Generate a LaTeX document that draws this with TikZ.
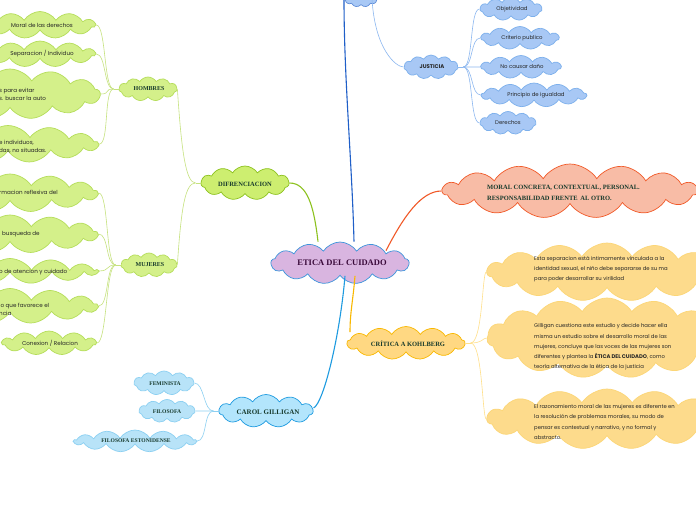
\documentclass[tikz,border=0pt]{standalone}
\usepackage{fontspec}
\setmainfont{Poppins}
\newfontfamily\titlefont{Liberation Serif}
\usetikzlibrary{shapes.symbols}
\definecolor{limefill}{HTML}{D4F08A}
\definecolor{limedraw}{HTML}{B5DD5A}
\definecolor{difffill}{HTML}{CDEE70}
\definecolor{diffdraw}{HTML}{8DC21F}
\definecolor{limeline}{HTML}{C6E27E}
\definecolor{lavfill}{HTML}{D9B5E0}
\definecolor{lavdraw}{HTML}{3D95DB}
\definecolor{salfill}{HTML}{F8BCA6}
\definecolor{saldraw}{HTML}{F15A29}
\definecolor{yelfill}{HTML}{FFD882}
\definecolor{yeldraw}{HTML}{F9B800}
\definecolor{yelleaf}{HTML}{FDDB8C}
\definecolor{yelline}{HTML}{FFE08A}
\definecolor{cyfill}{HTML}{B3E5FC}
\definecolor{cydraw}{HTML}{1E9BE0}
\definecolor{cyleaf}{HTML}{B8E3F8}
\definecolor{cyline}{HTML}{8CD0F2}
\definecolor{bfill}{HTML}{A8C8F5}
\definecolor{bdraw}{HTML}{7DB0EC}
\definecolor{bline}{HTML}{8DB8F0}
\definecolor{darkblue}{HTML}{1F5FC8}
\definecolor{titlegreen}{HTML}{173A2C}
\definecolor{titlepurple}{HTML}{3A0A3A}
\begin{document}
\begin{tikzpicture}[x=1pt,y=-1pt,
  cl/.style={cloud, cloud puffs=11, cloud puff arc=115, cloud ignores aspect, inner sep=0pt, draw, line width=0.7pt},
  green/.style={cl, fill=limefill, draw=limedraw},
  bigg/.style={cl, fill=limefill, draw=limedraw, cloud puffs=13},
  yelleafs/.style={cl, fill=yelleaf, draw=yelleaf!85!yeldraw, cloud puffs=15},
  cyleafs/.style={cl, fill=cyleaf, draw=cyline},
  bleafs/.style={cl, fill=bfill, draw=bdraw},
  tx/.style={font=\fontsize{5.6}{8.2}\selectfont, inner sep=0pt, text=black!85},
  jtx/.style={font=\fontsize{5.4}{7}\selectfont, inner sep=0pt, text=black!85},
  ptx/.style={font=\fontsize{5.3}{10.2}\selectfont, inner sep=0pt, align=left, anchor=west, text=black!85},
  ti/.style={font=\titlefont\bfseries\fontsize{6.5}{10.5}\selectfont, inner sep=0pt, text=titlegreen},
  sti/.style={font=\titlefont\bfseries\fontsize{5.6}{7}\selectfont, inner sep=0pt, text=titlegreen},
  gline/.style={limeline, line width=0.6pt},
  bl/.style={bline, line width=0.6pt},
  cyl/.style={cyline, line width=0.6pt},
  yl/.style={yelline, line width=0.6pt}]
\useasboundingbox (0,0) rectangle (696,520);
\clip (0,0) rectangle (696,520);
\fill[white] (0,0) rectangle (696,520);

% ---------- clouds ----------
\node[cl, cloud puffs=13, fill=lavfill, draw=lavdraw, minimum width=138pt, minimum height=42pt] (etica) at (340,263) {};
\node[font=\titlefont\bfseries\fontsize{8.5}{10}\selectfont, text=titlepurple, inner sep=0pt] (etica-t) at (342,263) {ETICA DEL CUIDADO};

\node[cl, fill=difffill, draw=diffdraw, minimum width=88pt, minimum height=34pt] (dif) at (245,183) {};
\node[ti] (dif-t) at (245,184) {DIFRENCIACION};

\node[green, minimum width=58pt, minimum height=24pt] (hom) at (148,89) {};
\node[ti, font=\titlefont\bfseries\fontsize{6}{7}\selectfont] (hom-t) at (149,89) {HOMBRES};
\node[green, minimum width=56pt, minimum height=24pt] (muj) at (149,265) {};
\node[ti, font=\titlefont\bfseries\fontsize{6}{7}\selectfont] (muj-t) at (150,265) {MUJERES};

% hombres leaves
\node[green, minimum width=110pt, minimum height=27pt] (h1) at (40,25) {};
\node[tx] (h1-t) at (42,25) {Moral de las derechos};
\node[green, minimum width=110pt, minimum height=26pt] (h2) at (40,54) {};
\node[tx] (h2-t) at (42,54) {Separacion / Individuo};
\node[bigg, minimum width=180pt, minimum height=50pt] (h3) at (10,94) {};
\node[tx, align=left, anchor=west] (h3-t) at (-1,94) {s para evitar\\s. buscar la auto};
\node[bigg, minimum width=180pt, minimum height=37pt] (h4) at (8,144) {};
\node[tx, align=left, anchor=west] (h4-t) at (-1,147) {e individuos,\\das, no situadas.};

% mujeres leaves
\node[bigg, minimum width=175pt, minimum height=38pt] (m1) at (10,193) {};
\node[tx, anchor=west] (m1-t) at (-1,192) {rmacion reflexiva del};
\node[bigg, minimum width=175pt, minimum height=38pt] (m2) at (10,234) {};
\node[tx, anchor=west] (m2-t) at (2,234) {busqueda de};
\node[bigg, minimum width=175pt, minimum height=25pt] (m3) at (10,271) {};
\node[tx, anchor=west] (m3-t) at (-1,272) {o de atencion y cuidado};
\node[bigg, minimum width=175pt, minimum height=35pt] (m4) at (10,306) {};
\node[tx, align=left, anchor=west] (m4-t) at (-1,309) {lo que favorece el\\ncia};
\node[green, minimum width=94pt, minimum height=24pt] (m5) at (49,343) {};
\node[tx] (m5-t) at (50,343) {Conexion / Relacion};

% carol gilligan
\node[cl, fill=cyfill, draw=cydraw, minimum width=94pt, minimum height=33pt] (carol) at (266,411) {};
\node[ti, font=\titlefont\bfseries\fontsize{7}{8}\selectfont] (carol-t) at (268,412) {CAROL GILLIGAN};
\node[cyleafs, minimum width=60pt, minimum height=24pt] (fem) at (164,383) {};
\node[sti] (fem-t) at (165,384) {FEMINISTA};
\node[cyleafs, minimum width=56pt, minimum height=23pt] (fil) at (167,411) {};
\node[sti] (fil-t) at (167,412) {FILOSOFA};
\node[cyleafs, cloud puffs=13, minimum width=122pt, minimum height=22pt] (est) at (135,441) {};
\node[sti] (est-t) at (136,441) {FILOSOFA ESTONIDENSE};

% top small cloud and justicia
\node[cl, fill=bfill, draw=darkblue!70, minimum width=36pt, minimum height=22pt] (topc) at (361,-4) {};
\node[bleafs, minimum width=54pt, minimum height=24pt] (jus) at (431,67) {};
\node[jtx, font=\fontsize{5.4}{7}\selectfont\bfseries] (jus-t) at (432,67) {JUSTICIA};
\node[bleafs, minimum width=62pt, minimum height=23pt] (j1) at (511,9) {};
\node[jtx] (j1-t) at (512,9) {Objetividad};
\node[bleafs, minimum width=78pt, minimum height=23pt] (j2) at (520,38) {};
\node[jtx] (j2-t) at (522,38) {Criterio publico};
\node[bleafs, minimum width=80pt, minimum height=23pt] (j3) at (521,67) {};
\node[jtx] (j3-t) at (522,67) {No causar daño};
\node[bleafs, cloud puffs=13, minimum width=105pt, minimum height=24pt] (j4) at (534,95) {};
\node[jtx] (j4-t) at (536,95) {Principio de igualdad};
\node[bleafs, minimum width=56pt, minimum height=23pt] (j5) at (508,123) {};
\node[jtx] (j5-t) at (508,123) {Derechos};

% moral concreta
\node[cl, fill=salfill, draw=saldraw, cloud puffs=15, minimum width=255pt, minimum height=54pt] (moral) at (570,191) {};
\node[ti, align=left, anchor=west] (moral-t) at (487,193) {MORAL CONCRETA, CONTEXTUAL, PERSONAL.\\RESPONSABILIDAD FRENTE\, AL OTRO.};

% critica a kohlberg
\node[cl, cloud puffs=13, fill=yelfill, draw=yeldraw, minimum width=118pt, minimum height=33pt] (crit) at (406,343) {};
\node[ti] (crit-t) at (408,344) {CRÍTICA A KOHLBERG};

\node[yelleafs, minimum width=240pt, minimum height=58pt] (y1) at (607,272) {};
\node[ptx] (y1-t) at (534,269) {Esta separacion está intimamente vinculada a la\\identidad sexual, el niño debe separarse de su ma\\para poder desarrollar su virilidad};
\node[yelleafs, minimum width=240pt, minimum height=80pt] (y2) at (607,338) {};
\node[ptx] (y2-t) at (534,347) {Gilligan cuestiona este estudio y decide hacer ella\\misma un estudio sobre el desarrollo moral de las\\mujeres, concluye que las voces de las mujeres son\\diferentes y plantea la \textbf{ÉTICA DEL CUIDADO}, como\\teoría alternativa de la ética de la justicia};
\node[yelleafs, minimum width=240pt, minimum height=60pt] (y3) at (607,419) {};
\node[ptx] (y3-t) at (534,422) {El razonamiento moral de las mujeres es diferente en\\la resolución de problemas morales, su modo de\\pensar es contextual y narrativo, y no formal y\\abstracto.};

% ---------- connectors ----------
\draw[diffdraw, line width=1.1pt] (dif.east) .. controls +(18,0) and +(-4,-35) .. ([xshift=-22pt]etica.north);
\draw[darkblue, line width=1.1pt] ([xshift=14pt]etica.north) .. controls +(-2,-80) and +(0,80) .. ([xshift=-17pt,yshift=6pt]topc.south);
\draw[saldraw, line width=1.1pt] ([xshift=46pt,yshift=-9pt]etica.north) .. controls +(18,-35) and +(-20,0) .. (moral.west);
\draw[yeldraw, line width=1.1pt] ([xshift=15pt]etica.south) .. controls +(-2,25) and +(0,-20) .. ([xshift=-56pt,yshift=-6pt]crit.north);
\draw[cydraw, line width=1.1pt] ([xshift=5pt]etica.south) .. controls +(-5,60) and +(10,-5) .. ([yshift=3pt]carol.east);

\draw[bl] ([xshift=11pt,yshift=6pt]topc.south) .. controls +(3,50) and +(-8,0) .. (jus.west);

\coordinate (difw) at ([xshift=-5pt]dif.west);
\draw[gline] (dif.west) -- (difw);
\draw[gline] (difw) .. controls +(-10,0) and +(4,60) .. (hom.east);
\draw[gline] (difw) .. controls +(-10,0) and +(4,-60) .. (muj.east);

\coordinate (homw) at ([xshift=-5pt]hom.west);
\draw[gline] (hom.west) -- (homw);
\foreach \n in {h1,h2,h3,h4}
  \draw[gline] (homw) .. controls +(-10,0) and +(10,0) .. (\n.east);

\coordinate (mujw) at ([xshift=-5pt]muj.west);
\draw[gline] (muj.west) -- (mujw);
\foreach \n in {m1,m2,m3,m4,m5}
  \draw[gline] (mujw) .. controls +(-10,0) and +(10,0) .. (\n.east);

\coordinate (carw) at ([xshift=-5pt]carol.west);
\draw[cyl] (carol.west) -- (carw);
\foreach \n in {fem,fil,est}
  \draw[cyl] (carw) .. controls +(-10,0) and +(10,0) .. (\n.east);

\coordinate (juse) at ([xshift=5pt]jus.east);
\draw[bl] (jus.east) -- (juse);
\foreach \n in {j1,j2,j3,j4,j5}
  \draw[bl] (juse) .. controls +(10,0) and +(-10,0) .. (\n.west);

\coordinate (crite) at ([xshift=5pt]crit.east);
\draw[yl] (crit.east) -- (crite);
\foreach \n in {y1,y2,y3}
  \draw[yl] (crite) .. controls +(12,0) and +(-4,0) .. (\n.west);
\end{tikzpicture}
\end{document}
